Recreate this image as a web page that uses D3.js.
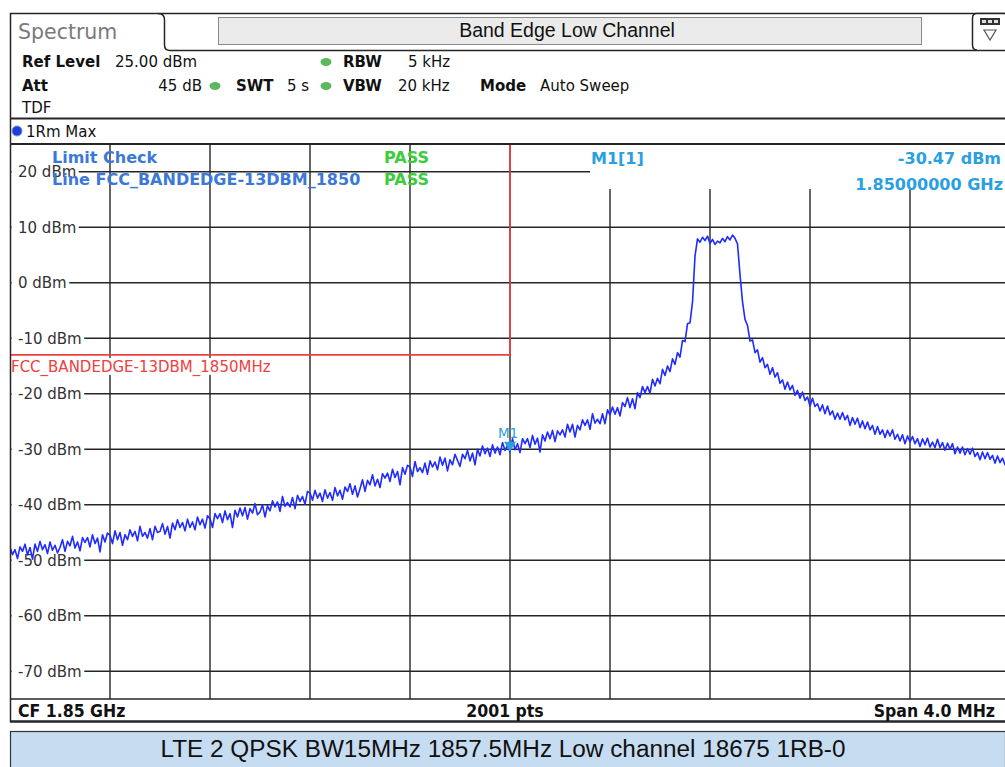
<!DOCTYPE html>
<html>
<head>
<meta charset="utf-8">
<script src="https://cdn.jsdelivr.net/npm/d3@7"></script>
<style>
  html, body { margin: 0; padding: 0; background: #fff; }
  svg { display: block; }
  .sans { font-family: "DejaVu Sans", Verdana, sans-serif; }
</style>
</head>
<body>
<svg id="chart" width="1005" height="767"></svg>
<script>
// ---------------- DATA ----------------
const titleText = "Band Edge Low Channel";
const captionText = "LTE 2 QPSK BW15MHz 1857.5MHz Low channel 18675 1RB-0";
const freqStartMHz = 1848.0;
const freqStopMHz = 1852.0;
const sweepStepMHz = 0.01;           // 401 samples
const refLevelDbm = 25;
const bottomLevelDbm = -75;
const yTickValues = [20, 10, 0, -10, -20, -30, -40, -50, -60, -70];
const yTickLabels = ["20 dBm", "10 dBm", "0 dBm", "-10 dBm", "-20 dBm", "-30 dBm", "-40 dBm", "-50 dBm", "-60 dBm", "-70 dBm"];
const xGridMHz = [1848.4, 1848.8, 1849.2, 1849.6, 1850.0, 1850.4, 1850.8, 1851.2, 1851.6];
const limitLevelDbm = -13;
const limitStopMHz = 1850.0;
const limitName = "FCC_BANDEDGE-13DBM_1850MHz";
const markerFreqText = "1.85000000 GHz";
const markerFreqMHz = 1850.0;
const markerValueDbm = -30.47;
const traceDbm = [
  -47.6, -49.0, -48.1, -49.7, -47.6, -48.4, -47.1, -49.0, -47.7, -49.8,
  -47.1, -48.4, -46.6, -48.1, -47.2, -48.8, -46.7, -48.2, -47.3, -48.7,
  -47.7, -46.3, -48.4, -46.6, -47.4, -45.7, -47.8, -46.7, -48.3, -45.9,
  -46.8, -45.9, -47.6, -45.4, -47.0, -46.0, -48.5, -45.4, -46.7, -45.1,
  -45.5, -47.0, -44.7, -46.3, -45.0, -47.3, -45.4, -46.3, -44.5, -45.7,
  -44.8, -46.5, -43.9, -45.7, -45.0, -46.0, -44.3, -46.3, -43.9, -45.0,
  -44.8, -43.4, -45.3, -43.9, -46.0, -43.3, -44.5, -42.7, -44.1, -43.2,
  -44.7, -42.6, -44.1, -43.1, -44.5, -42.2, -43.6, -42.6, -44.2, -42.0,
  -42.5, -44.1, -41.6, -42.5, -41.6, -43.2, -41.1, -42.7, -41.6, -44.1,
  -41.0, -42.2, -40.6, -42.0, -40.5, -42.6, -40.7, -41.5, -39.8, -41.8,
  -41.3, -40.0, -42.2, -40.2, -41.1, -39.3, -40.4, -39.5, -41.2, -38.5,
  -40.3, -39.6, -40.4, -38.7, -40.7, -38.3, -39.4, -38.5, -39.9, -37.6,
  -37.9, -39.2, -37.4, -38.8, -37.9, -39.4, -37.3, -38.8, -37.8, -39.2,
  -36.9, -38.4, -37.4, -39.0, -36.8, -37.6, -36.2, -38.1, -36.6, -38.6,
  -37.1, -35.5, -37.6, -35.6, -36.4, -34.6, -36.6, -35.4, -36.9, -34.4,
  -35.2, -34.3, -35.8, -33.6, -35.1, -34.0, -36.4, -33.3, -34.5, -32.9,
  -33.2, -34.9, -32.2, -34.0, -33.3, -34.2, -32.5, -34.5, -32.1, -33.2,
  -32.3, -33.7, -31.4, -32.9, -31.6, -33.9, -31.9, -32.8, -30.9, -32.0,
  -33.1, -30.9, -31.7, -30.2, -32.1, -30.7, -32.8, -30.0, -31.2, -29.4,
  -30.8, -29.8, -31.3, -29.2, -30.7, -29.6, -31.0, -28.8, -30.2, -29.3,
  -30.47,
  -28.1, -30.1, -29.0, -30.6, -28.1, -29.0, -28.1, -29.7, -27.5, -29.1,
  -28.0, -30.5, -27.4, -28.5, -26.9, -28.1, -26.6, -28.6, -26.7, -27.4,
  -26.5, -27.8, -25.5, -26.9, -25.5, -27.8, -25.7, -26.5, -24.7, -25.7,
  -24.7, -26.4, -23.6, -25.3, -24.6, -25.4, -23.6, -25.4, -22.9, -23.8,
  -22.4, -23.7, -22.5, -24.0, -21.6, -22.3, -20.7, -22.5, -20.9, -22.7,
  -19.8, -20.7, -18.7, -19.8, -18.7, -19.9, -17.4, -18.6, -17.2, -18.2,
  -15.6, -16.7, -15.0, -16.0, -13.7, -14.7, -12.6, -13.4, -10.4, -10.6,
  -7.4, -7.2, -3.5, 4.8, 7.9, 7.3, 8.2, 7.6, 8.4, 7.1,
  7.8, 6.9, 7.5, 7.2, 8.0, 7.4, 8.3, 7.7, 8.6, 8.0,
  7.0, 1.5, -3.4, -6.6, -7.7, -10.5, -10.3, -12.6, -12.1, -14.3,
  -13.5, -15.3, -14.7, -16.5, -15.3, -17.0, -16.2, -18.1, -17.5, -19.2,
  -17.9, -19.3, -18.5, -20.3, -19.4, -20.8, -19.7, -21.2, -20.6, -22.2,
  -20.8, -22.3, -21.8, -23.1, -22.0, -23.6, -22.2, -23.8, -23.1, -24.6,
  -23.5, -24.6, -23.4, -24.7, -23.9, -25.7, -24.3, -25.5, -24.4, -26.1,
  -24.9, -26.3, -25.1, -26.5, -25.7, -27.3, -25.9, -27.3, -26.5, -27.9,
  -26.6, -27.6, -26.5, -28.2, -27.3, -28.5, -27.4, -29.0, -27.6, -28.7,
  -27.7, -29.0, -28.1, -29.5, -28.1, -29.2, -28.0, -29.6, -28.7, -29.7,
  -28.2, -29.7, -28.8, -30.2, -28.9, -30.0, -29.0, -30.8, -29.6, -30.7,
  -29.6, -31.0, -29.9, -30.9, -29.8, -31.3, -30.6, -31.9, -30.5, -31.7,
  -30.6, -31.8, -31.1, -32.5, -31.2, -32.4, -31.6, -32.8, -31.6, -32.8
];

// ---------------- LAYOUT ----------------
const W = 1005, H = 767;
const plot = { left: 10, right: 1010, top: 144, bottom: 699 };
const ink = "#262626";
const svg = d3.select("#chart");

const x = d3.scaleLinear().domain([freqStartMHz, freqStopMHz]).range([plot.left, plot.right]);
const y = d3.scaleLinear().domain([bottomLevelDbm, refLevelDbm]).range([plot.bottom, plot.top]);

// ---------------- HEADER ----------------
const hdr = svg.append("g");
hdr.append("line").attr("x1", 10).attr("x2", W).attr("y1", 13.5).attr("y2", 13.5).attr("stroke", ink).attr("stroke-width", 1.5);
hdr.append("path")
  .attr("d", "M10.5,13 L10.5,50 M158,13.5 Q164.5,13.5 164.5,20 L164.5,45 Q164.5,50.5 170,50.5 L1005,50.5")
  .attr("fill", "none").attr("stroke", ink).attr("stroke-width", 1.5);
hdr.append("text").attr("class", "sans").attr("x", 18).attr("y", 39)
  .attr("font-size", 20.5).attr("fill", "#7a7a7a").text("Spectrum");
hdr.append("rect").attr("x", 218.5).attr("y", 17.5).attr("width", 703).attr("height", 27)
  .attr("fill", "#ebebeb").attr("stroke", "#8a8a8a").attr("stroke-width", 1);
hdr.append("text").attr("x", 567).attr("y", 37).attr("text-anchor", "middle")
  .attr("font-family", "Liberation Sans, Arial, sans-serif").attr("font-size", 19.5).attr("fill", "#111").text(titleText);
hdr.append("path").attr("d", "M1005,13.5 L977,13.5 Q972.5,13.5 972.5,18 L972.5,45 Q972.5,50 977,50")
  .attr("fill", "#fff").attr("stroke", ink).attr("stroke-width", 1.5);
hdr.append("rect").attr("x", 980).attr("y", 18).attr("width", 20).attr("height", 7).attr("fill", "#333");
[982, 988, 994].forEach(cx => hdr.append("rect").attr("x", cx).attr("y", 20).attr("width", 4).attr("height", 3).attr("fill", "#ddd"));
hdr.append("path").attr("d", "M984,30 L996,30 L990,40 Z").attr("fill", "none").attr("stroke", "#555").attr("stroke-width", 1.2);

const info = svg.append("g").attr("class", "sans").attr("font-size", 15).attr("fill", "#111");
function t(xp, yp, s, bold, anchor) {
  info.append("text").attr("x", xp).attr("y", yp).attr("font-weight", bold ? "bold" : "normal")
    .attr("text-anchor", anchor || "start").text(s);
}
function dot(cx, cy) {
  info.append("ellipse").attr("cx", cx).attr("cy", cy).attr("rx", 5.5).attr("ry", 4).attr("fill", "#5cb85c");
}
t(22, 67, "Ref Level", true); t(115, 67, "25.00 dBm", false);
dot(326, 62); t(343, 67, "RBW", true); t(408, 67, "5 kHz", false);
t(22, 91, "Att", true); t(202, 91, "45 dB", false, "end");
dot(215, 86); t(236, 91, "SWT", true); t(287, 91, "5 s", false);
dot(326, 86); t(343, 91, "VBW", true); t(398, 91, "20 kHz", false);
t(480, 91, "Mode", true); t(540, 91, "Auto Sweep", false);
t(22, 113, "TDF", false);
svg.append("line").attr("x1", 10).attr("x2", W).attr("y1", 118.5).attr("y2", 118.5).attr("stroke", ink).attr("stroke-width", 2);
svg.append("line").attr("x1", 10.5).attr("x2", 10.5).attr("y1", 50).attr("y2", 144).attr("stroke", ink).attr("stroke-width", 1.5);
svg.append("circle").attr("cx", 17).attr("cy", 131).attr("r", 5).attr("fill", "#1c3fd8").attr("stroke", "#6f8fe8").attr("stroke-width", 1);
t(26, 137, "1Rm Max", false);

// ---------------- GRID ----------------
const grid = svg.append("g").attr("stroke", ink).attr("stroke-width", 1.4);
grid.selectAll("line.h").data(yTickValues).join("line")
  .attr("x1", plot.left).attr("x2", plot.right)
  .attr("y1", d => y(d)).attr("y2", d => y(d));
grid.selectAll("line.v").data(xGridMHz).join("line")
  .attr("x1", d => x(d)).attr("x2", d => x(d))
  .attr("y1", plot.top).attr("y2", plot.bottom);
svg.append("rect").attr("x", 590).attr("y", 145).attr("width", W - 590).attr("height", 44).attr("fill", "#fff");

const yl = svg.append("g").attr("class", "sans").attr("font-size", 15).attr("fill", "#333");
yTickValues.forEach((v, i) => {
  const txt = yl.append("text").attr("x", 18).attr("y", y(v) + 5.5).text(yTickLabels[i]);
  const w = txt.node().getComputedTextLength();
  yl.insert("rect", "text").attr("x", 11.5).attr("y", y(v) - 8).attr("width", w + 9).attr("height", 16).attr("fill", "#fff");
});

// ---------------- LIMIT LINE ----------------
const red = "#f04040";
svg.append("path")
  .attr("d", `M${plot.left},${y(limitLevelDbm)} L${x(limitStopMHz)},${y(limitLevelDbm)} L${x(limitStopMHz)},${plot.top}`)
  .attr("fill", "none").attr("stroke", red).attr("stroke-width", 1.6);
const ll = svg.append("text").attr("class", "sans").attr("x", 11).attr("y", y(limitLevelDbm) + 17)
  .attr("font-size", 15).attr("fill", red).text(limitName);
const llw = ll.node().getComputedTextLength();
svg.insert("rect", () => ll.node()).attr("x", 11.5).attr("y", y(limitLevelDbm) + 3).attr("width", llw + 2).attr("height", 17).attr("fill", "#fff");

// ---------------- TRACE ----------------
svg.append("clipPath").attr("id", "clip").append("rect")
  .attr("x", plot.left).attr("y", plot.top).attr("width", plot.right - plot.left).attr("height", plot.bottom - plot.top);
const line = d3.line()
  .x((d, i) => x(freqStartMHz + i * sweepStepMHz))
  .y(d => y(d));
svg.append("path").datum(traceDbm).attr("clip-path", "url(#clip)")
  .attr("d", line).attr("fill", "none").attr("stroke", "#1f2bff").attr("stroke-width", 1.6)
  .attr("stroke-linejoin", "round");

// ---------------- MARKER ----------------
const mc = "#2aa0e0";
const mx = x(markerFreqMHz), my = y(markerValueDbm);
svg.append("path").attr("d", `M${mx - 6},${my - 10} L${mx + 6},${my - 10} L${mx},${my} Z`).attr("fill", mc);
svg.append("text").attr("class", "sans").attr("x", mx - 2).attr("y", my - 14).attr("text-anchor", "middle")
  .attr("font-size", 13.5).attr("fill", mc).text("M1");

// ---------------- OVERLAY TEXT ----------------
const ov = svg.append("g").attr("class", "sans").attr("font-size", 16).attr("font-weight", "bold");
ov.append("text").attr("x", 52).attr("y", 163).attr("fill", "#3b78d8").text("Limit Check");
ov.append("text").attr("x", 384).attr("y", 163).attr("fill", "#3ccc3c").text("PASS");
ov.append("text").attr("x", 52).attr("y", 185).attr("fill", "#3b78d8").text("Line FCC_BANDEDGE-13DBM_1850");
ov.append("text").attr("x", 384).attr("y", 185).attr("fill", "#3ccc3c").text("PASS");
ov.append("text").attr("x", 591).attr("y", 164).attr("fill", mc).text("M1[1]");
ov.append("text").attr("x", 1001).attr("y", 164).attr("text-anchor", "end").attr("fill", mc).text(markerValueDbm.toFixed(2) + " dBm");
ov.append("text").attr("x", 1003).attr("y", 190).attr("text-anchor", "end").attr("fill", mc).text(markerFreqText);

// ---------------- FRAME & FOOTER ----------------
const fr = svg.append("g").attr("stroke", ink).attr("fill", "none");
fr.append("line").attr("x1", 10).attr("x2", W).attr("y1", plot.top).attr("y2", plot.top).attr("stroke-width", 2);
fr.append("line").attr("x1", 10).attr("x2", W).attr("y1", plot.bottom).attr("y2", plot.bottom).attr("stroke-width", 1.5);
fr.append("line").attr("x1", 10.5).attr("x2", 10.5).attr("y1", plot.top).attr("y2", 722).attr("stroke-width", 1.5);
fr.append("line").attr("x1", 10).attr("x2", W).attr("y1", 721.5).attr("y2", 721.5).attr("stroke-width", 2.5);

const ft = svg.append("g").attr("font-family", "'DejaVu Sans Condensed', 'DejaVu Sans', sans-serif")
  .attr("font-stretch", "condensed").attr("font-weight", "bold").attr("font-size", 17.5).attr("fill", "#111");
ft.append("text").attr("x", 18).attr("y", 717).text("CF 1.85 GHz");
ft.append("text").attr("x", 505).attr("y", 717).attr("text-anchor", "middle").text("2001 pts");
ft.append("text").attr("x", 995).attr("y", 717).attr("text-anchor", "end").text("Span 4.0 MHz");

svg.append("rect").attr("x", 10.5).attr("y", 731.5).attr("width", W - 10).attr("height", 40)
  .attr("fill", "#c6dcf0").attr("stroke", "#333").attr("stroke-width", 1.2);
svg.append("text").attr("x", 503).attr("y", 757).attr("text-anchor", "middle")
  .attr("font-family", "Liberation Sans, Arial, sans-serif").attr("font-size", 23).attr("fill", "#111")
  .attr("textLength", 685).attr("lengthAdjust", "spacingAndGlyphs")
  .text(captionText);
</script>
</body>
</html>
